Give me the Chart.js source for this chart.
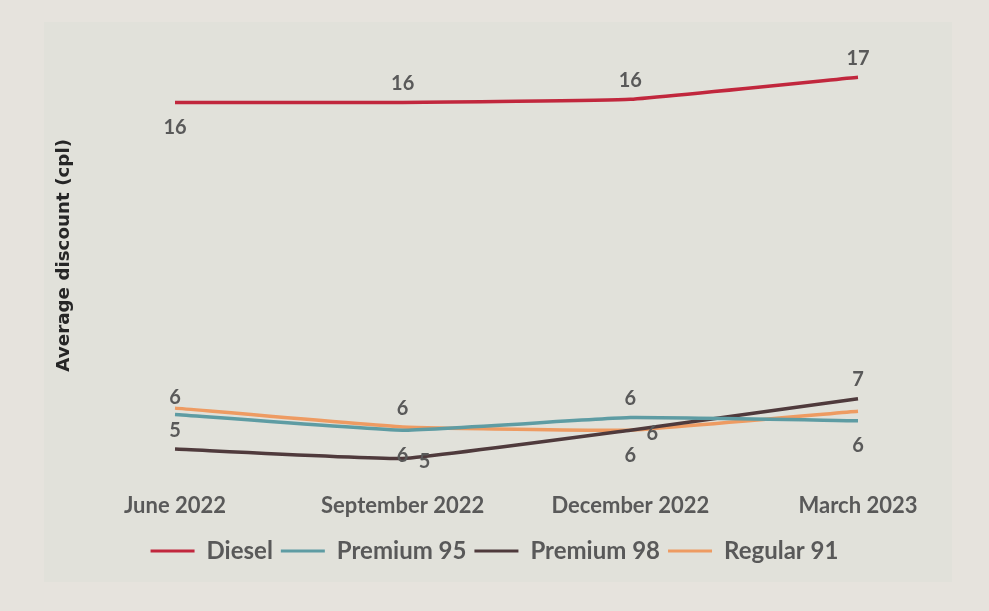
<!DOCTYPE html>
<html>
<head>
<meta charset="utf-8">
<title>Average discount</title>
<script src="https://cdn.jsdelivr.net/npm/chart.js@4.4.0/dist/chart.umd.min.js"></script>
<style>
    html, body { margin: 0; padding: 0; background: #e6e3dd; }
    #wrap { width: 989px; height: 611px; }
</style>
</head>
<body>
<div id="wrap"><canvas id="discount-chart" width="989" height="611"></canvas></div>
<script>
// Quarterly average discount, cents per litre
const quarters = ['June 2022', 'September 2022', 'December 2022', 'March 2023'];
const diesel = [16.0, 16.0, 16.1, 16.8];
const premium95 = [6.1, 5.6, 6.0, 5.9];
const premium98 = [5.0, 4.7, 5.6, 6.6];
const regular91 = [6.3, 5.7, 5.6, 6.2];

const labelColor = '#595959';

// Page backdrop with the slightly lighter panel behind the chart
const backdrop = {
    id: 'backdrop',
    beforeDraw(chart) {
        const ctx = chart.ctx;
        ctx.save();
        ctx.fillStyle = '#e6e3dd';
        ctx.fillRect(0, 0, chart.width, chart.height);
        ctx.fillStyle = '#e1e1da';
        ctx.fillRect(44, 22, 908, 560);
        ctx.restore();
    }
};

// Rounded value next to each point, offset per point so they don't collide
const valueLabels = {
    id: 'valueLabels',
    afterDatasetsDraw(chart) {
        const ctx = chart.ctx;
        ctx.save();
        ctx.font = 'bold 20px Lato';
        ctx.fillStyle = labelColor;
        ctx.textAlign = 'center';
        ctx.textBaseline = 'middle';
        chart.data.datasets.forEach((ds, i) => {
            const meta = chart.getDatasetMeta(i);
            meta.data.forEach((pt, j) => {
                const off = ds.labelOffsets[j];
                if (!off) return;
                ctx.fillText(Math.round(ds.data[j]), pt.x + off[0], pt.y + off[1]);
            });
        });
        ctx.restore();
    }
};

function series(label, data, color, labelOffsets) {
    return {
        label: label,
        data: data,
        borderColor: color,
        backgroundColor: color,
        borderWidth: 3.5,
        pointRadius: 0,
        tension: 0.1,
        fill: false,
        labelOffsets: labelOffsets
    };
}

new Chart(document.getElementById('discount-chart'), {
    type: 'line',
    data: {
        labels: quarters,
        datasets: [
            series('Diesel', diesel, '#c1273d', [[0, 25], [0, -19], [0, -19], [0, -19]]),
            series('Premium 95', premium95, '#5e9ca3', [[0, -17], [0, 25], [0, -19], [0, 25]]),
            series('Premium 98', premium98, '#4f3a3c', [[0, -19], [22, 3], [22, 3], [0, -19]]),
            series('Regular 91', regular91, '#ee9b62', [null, [0, -18], [0, 25], null])
        ]
    },
    options: {
        responsive: false,
        animation: false,
        layout: { padding: { left: 40, right: 40, top: 30, bottom: 38 } },
        scales: {
            x: {
                grid: { display: false, drawTicks: false },
                border: { display: false },
                ticks: {
                    color: labelColor,
                    font: { family: 'Lato', weight: 'bold', size: 22 },
                    padding: 12,
                    maxRotation: 0,
                    autoSkip: false
                }
            },
            y: {
                min: 4,
                max: 18.3,
                ticks: { display: false },
                grid: { display: false, drawTicks: false },
                border: { display: false },
                title: {
                    display: true,
                    text: 'Average discount (cpl)',
                    color: '#262626',
                    font: { family: 'DejaVu Sans', weight: 'bold', size: 18.3 },
                    padding: { top: 13, bottom: 0 }
                },
                afterFit(scale) { scale.width = 135; }
            },
            // empty right gutter so the plot ends where the legend stays centred
            gutter: {
                position: 'right',
                ticks: { display: false },
                grid: { display: false, drawTicks: false },
                border: { display: false },
                afterFit(scale) { scale.width = 91; }
            }
        },
        plugins: {
            tooltip: { enabled: false },
            legend: {
                position: 'bottom',
                labels: {
                    color: labelColor,
                    font: { family: 'Lato', weight: 'bold', size: 24 },
                    boxWidth: 44,
                    boxHeight: 3,
                    padding: 8,
                    generateLabels(chart) {
                        return Chart.defaults.plugins.legend.labels.generateLabels(chart)
                            .map(item => Object.assign(item, { lineWidth: 0 }));
                    }
                }
            }
        }
    },
    plugins: [backdrop, valueLabels]
});
</script>
</body>
</html>
